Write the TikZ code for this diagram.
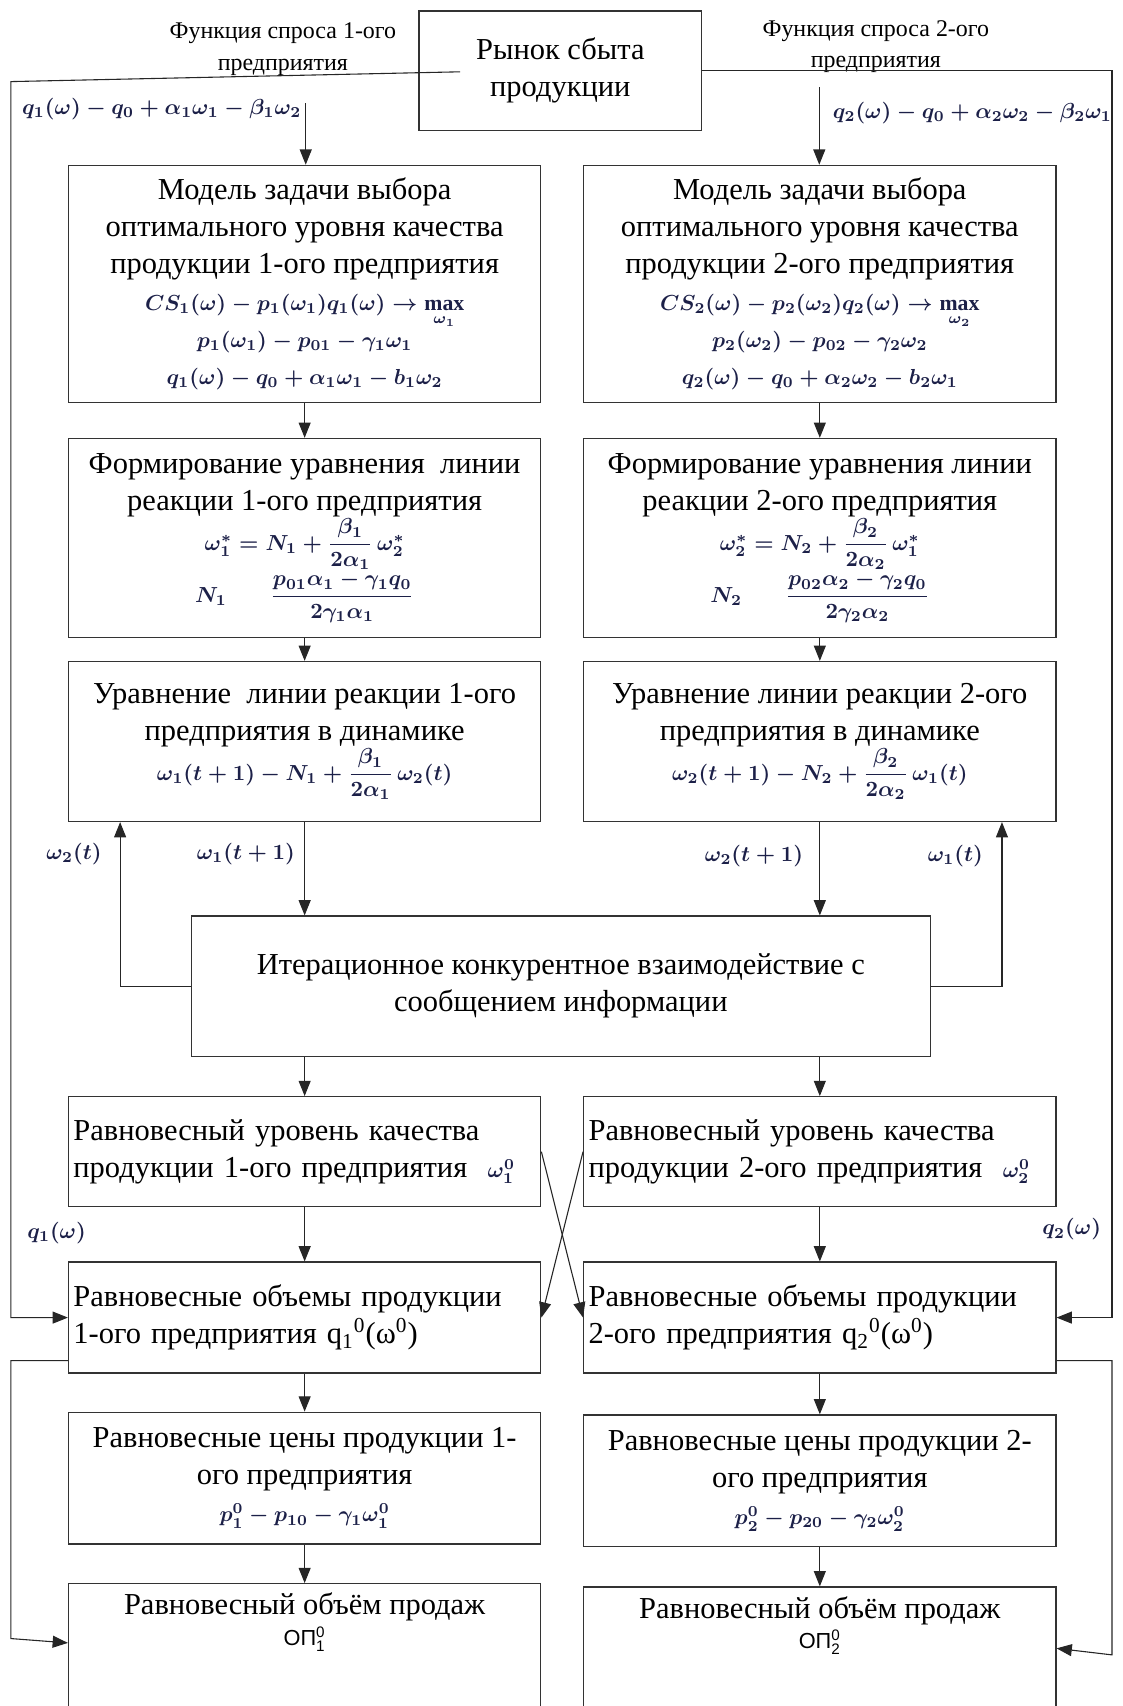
\documentclass[tikz,border=0pt]{standalone}
\usepackage{amsmath}
\usepackage{fontspec}
\setmainfont{Liberation Serif}
\setsansfont{Liberation Sans}
\usetikzlibrary{arrows.meta,calc}
\definecolor{fcol}{RGB}{28,32,72}
\newcommand{\fml}[1]{{\fontsize{10}{12}\selectfont\color{fcol}\boldmath$#1$}}
\newcommand{\ops}[1]{{\sffamily\fontsize{10}{12}\selectfont ОП$^{\textsf{0}}_{\textsf{#1}}$}}
\tikzset{
  blok/.style={draw=black!80, line width=0.6pt, minimum width=217pt, inner sep=2pt,
    align=center, font=\fontsize{14}{17}\selectfont},
  bloklft/.style={blok, text width=212.5pt, align=left},
  lbl/.style={inner sep=1pt, font=\fontsize{11}{14.5}\selectfont, align=center},
  lnk/.style={line width=0.5pt, draw=black!85},
  arr/.style={lnk, -{Triangle[length=7pt,width=5.5pt]}},
}
\begin{document}
\begin{tikzpicture}[x=0.5pt,y=-0.5pt]
\useasboundingbox (0,0) rectangle (1032,1568);
% Market and demand functions
\node[blok, minimum width=130pt, minimum height=55pt] (market) at (515,65) {Рынок сбыта\\продукции};
\node[lbl] (fun1) at (260,45) {Функция спроса 1-ого\\предприятия};
\node[lbl] (fun2) at (805,43) {Функция спроса 2-ого\\предприятия};
\node[anchor=west, inner sep=0pt] (dem1) at (20,100) {\fml{q_1(\omega) - q_0 + \alpha_1\omega_1 - \beta_1\omega_2}};
\node[anchor=west, inner sep=0pt] (dem2) at (765,104) {\fml{q_2(\omega) - q_0 + \alpha_2\omega_2 - \beta_2\omega_1}};
% Model of the choice problem
\node[blok, minimum height=109pt] (model1) at (280,261) {Модель задачи выбора\\ оптимального уровня качества\\ продукции 1-ого предприятия\\
  \fml{CS_1(\omega) - p_1(\omega_1)q_1(\omega) \to \max\limits_{\omega_1}}\\ \fml{p_1(\omega_1) - p_{01} - \gamma_1\omega_1}\\ \fml{q_1(\omega) - q_0 + \alpha_1\omega_1 - b_1\omega_2}};
\node[blok, minimum height=109pt] (model2) at (753.5,261) {Модель задачи выбора\\ оптимального уровня качества\\ продукции 2-ого предприятия\\
  \fml{CS_2(\omega) - p_2(\omega_2)q_2(\omega) \to \max\limits_{\omega_2}}\\ \fml{p_2(\omega_2) - p_{02} - \gamma_2\omega_2}\\ \fml{q_2(\omega) - q_0 + \alpha_2\omega_2 - b_2\omega_1}};
% Reaction lines
\node[blok, minimum height=91.5pt] (form1) at (280,494.5) {Формирование уравнения~ линии\\ реакции 1-ого предприятия\\
  \fml{\omega_1^{*} = N_1 + \dfrac{\beta_1}{2\alpha_1}\,\omega_2^{*}}\\ \fml{N_1\qquad\dfrac{p_{01}\alpha_1 - \gamma_1 q_0}{2\gamma_1\alpha_1}}};
\node[blok, minimum height=91.5pt] (form2) at (753.5,494.5) {Формирование уравнения линии\\ реакции 2-ого предприятия\\
  \fml{\omega_2^{*} = N_2 + \dfrac{\beta_2}{2\alpha_2}\,\omega_1^{*}}\\ \fml{N_2\qquad\dfrac{p_{02}\alpha_2 - \gamma_2 q_0}{2\gamma_2\alpha_2}}};
\node[blok, minimum height=73.5pt] (dyn1) at (280,681.5) {Уравнение~ линии реакции 1-ого\\ предприятия в динамике\\
  \fml{\omega_1(t+1) - N_1 + \dfrac{\beta_1}{2\alpha_1}\,\omega_2(t)}};
\node[blok, minimum height=73.5pt] (dyn2) at (753.5,681.5) {Уравнение линии реакции 2-ого\\ предприятия в динамике\\
  \fml{\omega_2(t+1) - N_2 + \dfrac{\beta_2}{2\alpha_2}\,\omega_1(t)}};
% Iterations
\node[blok, minimum width=339.5pt, minimum height=64.5pt] (iter) at (515.5,906.5) {Итерационное конкурентное взаимодействие с\\ сообщением информации};
\node[lbl] (w2t) at (68,785) {\fml{\omega_2(t)}};
\node[lbl] (w1t1) at (226,785) {\fml{\omega_1(t+1)}};
\node[lbl] (w2t1) at (693,787) {\fml{\omega_2(t+1)}};
\node[lbl] (w1t) at (878,787) {\fml{\omega_1(t)}};
% Equilibrium
\node[bloklft, minimum height=50.5pt] (eqq1) at (280,1058.5) {Равновесный уровень качества\\ продукции 1-ого предприятия~ \fml{\omega_1^{0}}};
\node[bloklft, minimum height=50.5pt] (eqq2) at (753.5,1058.5) {Равновесный уровень качества\\ продукции 2-ого предприятия~ \fml{\omega_2^{0}}};
\node[bloklft, minimum height=51pt] (vol1) at (280,1211) {Равновесные объемы продукции\\ 1-ого предприятия q\textsubscript{1}\textsuperscript{0}(ω\textsuperscript{0})};
\node[bloklft, minimum height=51pt] (vol2) at (753.5,1211) {Равновесные объемы продукции\\ 2-ого предприятия q\textsubscript{2}\textsuperscript{0}(ω\textsuperscript{0})};
\node[lbl] (q1w) at (52,1133) {\fml{q_1(\omega)}};
\node[lbl] (q2w) at (985,1130) {\fml{q_2(\omega)}};
\node[blok, minimum height=60.5pt] (price1) at (280,1358.5) {Равновесные цены продукции 1-\\ ого предприятия\\ \fml{p_1^{0} - p_{10} - \gamma_1\omega_1^{0}}};
\node[blok, minimum height=60.5pt] (price2) at (753.5,1361) {Равновесные цены продукции 2-\\ ого предприятия\\ \fml{p_2^{0} - p_{20} - \gamma_2\omega_2^{0}}};
\node[blok, anchor=north, minimum height=75pt, label={[font=\fontsize{14}{17}\selectfont, align=center, anchor=north, yshift=-1pt]north:{Равновесный объём продаж\\[-3pt]\ops{1}}}] (sales1) at (280,1455) {};
\node[blok, anchor=north, minimum height=75pt, label={[font=\fontsize{14}{17}\selectfont, align=center, anchor=north, yshift=-1pt]north:{Равновесный объём продаж\\[-3pt]\ops{2}}}] (sales2) at (753.5,1458) {};
%
% Demand function edges
\coordinate (d1) at (281,95);
\coordinate (d2) at (753,80);
\draw[ arr] (d1) -- (d1 |- model1.north);
\draw[ arr] (d2) -- (d2 |- model2.north);
\coordinate (mk1) at (423,66);
\coordinate (lt1) at (10,75);
\coordinate (rt1) at (1022,65);
\draw[ arr] (mk1) -- (lt1) |- (vol1.west);
\draw[ arr] (market.east) -- (rt1) |- (vol2.east);
\coordinate (lb2) at (10,1506);
\coordinate (rb2) at (1022,1521);
\draw[ arr] ($(vol1.south west)+(0,-12)$) -| (lb2) -- ($(sales1.north west)+(0,55)$);
\draw[ arr] ($(vol2.south east)+(0,-12)$) -| (rb2) -- ($(sales2.north east)+(0,57)$);
% Down the columns
\foreach \a/\b in {model1/form1, form1/dyn1, model2/form2, form2/dyn2, dyn1/iter, dyn2/iter,
  eqq1/vol1, eqq2/vol2, vol1/price1, vol2/price2, price1/sales1, price2/sales2}
  \draw[ arr] (\a.south) -- (\a.south |- \b.north);
\draw[ arr] (iter.south -| eqq1.north) -- (eqq1.north);
\draw[ arr] (iter.south -| eqq2.north) -- (eqq2.north);
% Iteration feedback
\draw[ arr] (iter.west) -| ($(dyn1.south west)+(48,0)$);
\draw[ arr] (iter.east) -| ($(dyn2.south west)+(385,0)$);
% Crossing edges
\draw[ arr] (eqq1.east) -- (vol2.west);
\draw[ arr] (eqq2.west) -- (vol1.east);
\end{tikzpicture}
\end{document}
